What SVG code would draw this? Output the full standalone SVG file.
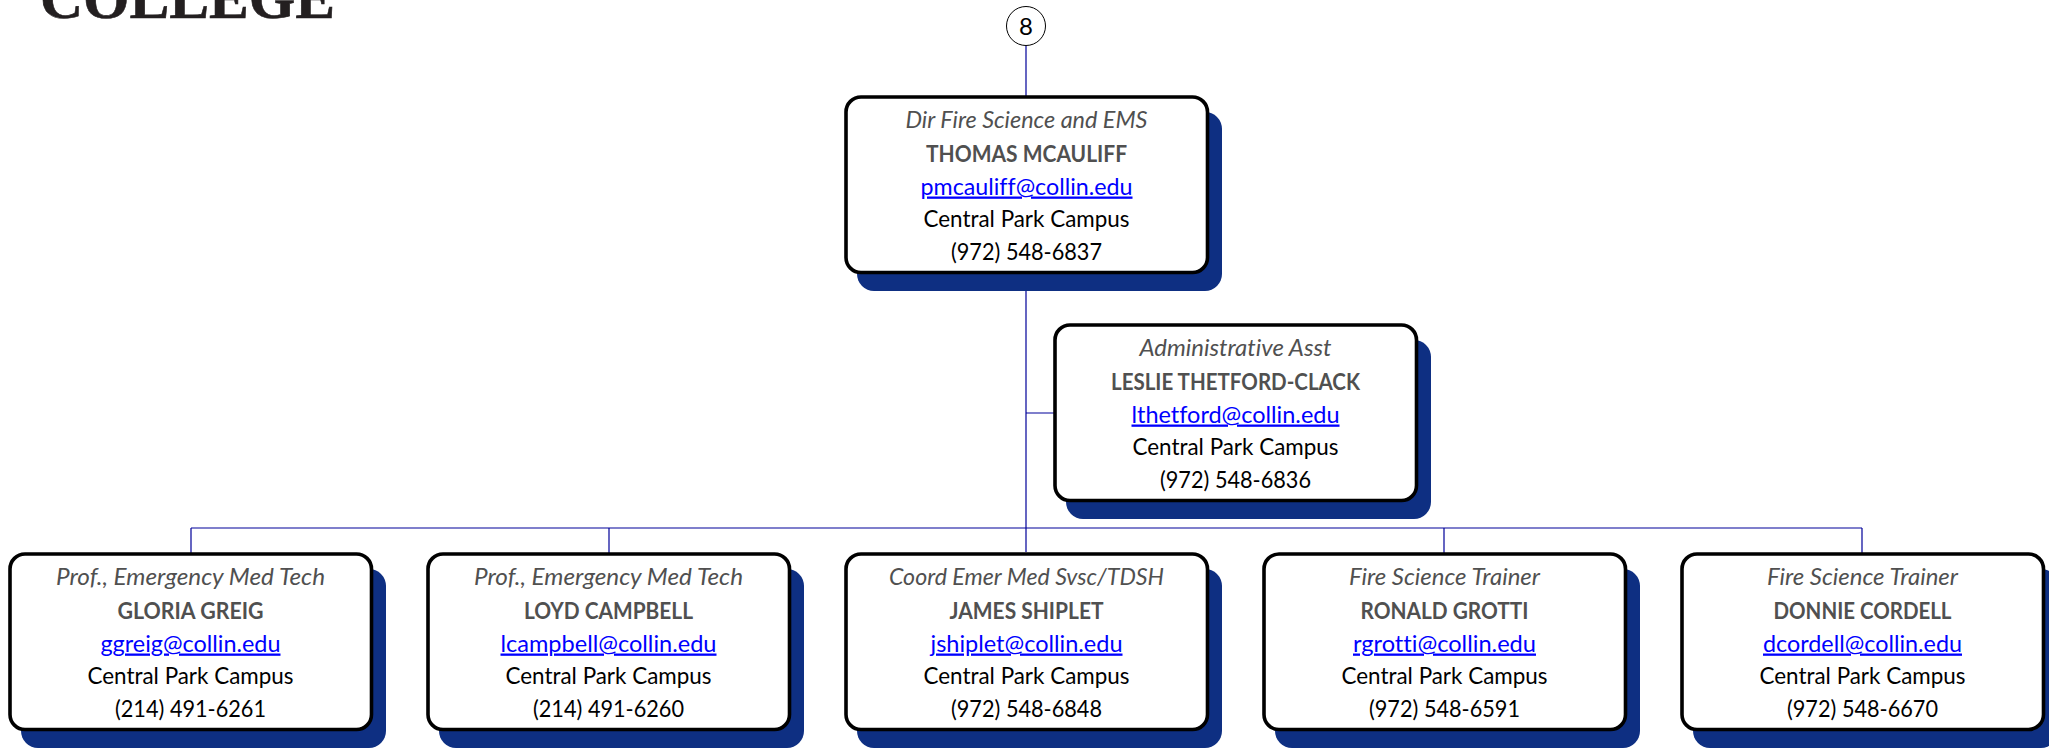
<svg xmlns="http://www.w3.org/2000/svg" width="2049" height="749" viewBox="0 0 2049 749">
<style>
text{font-family:Lato,"Liberation Sans",sans-serif;font-size:22.4px;text-anchor:middle;fill:#000;font-variant-ligatures:none}
.sh{fill:#0e2f82}
.bx{fill:#fff;stroke:#000;stroke-width:3.6}
.t{font-style:italic;fill:#505050;font-size:23px}
.n{font-weight:700;fill:#505050;font-size:22px}
.e{fill:#00f;text-decoration:underline;font-size:23px}
.c{fill:none;stroke:#000099;stroke-width:1.2}
.logo{font-family:"Liberation Serif",serif;font-weight:700;font-size:60px;fill:#231f20;stroke:#231f20;stroke-width:.6;text-anchor:start}
</style>
<defs>
<g id="card"><rect class="sh" x="11" y="15" width="365" height="179" rx="17"/><rect class="bx" width="361.5" height="175.5" rx="15"/></g>
</defs>
<text id="logo" class="logo" x="40" y="18" textLength="295" lengthAdjust="spacingAndGlyphs">COLLEGE</text>
<g id="connectors">
<path class="c" d="M1026 46V97M1026 272V552M1026 413H1055M191 528H1862M191 528V554M609 528V554M1444 528V554M1862 528V554"/>
</g>
<g id="ref8"><circle cx="1026" cy="26" r="19.5" fill="#fff" stroke="#000" stroke-width="1"/><text x="1026" y="35" style="font-size:24px">8</text></g>
<g id="mcauliff" transform="translate(846 97)"><use href="#card"/>
<text class="t" x="180.5" y="31" textLength="242" lengthAdjust="spacingAndGlyphs">Dir Fire Science and EMS</text><text class="n" x="180.5" y="64.5" textLength="201" lengthAdjust="spacingAndGlyphs">THOMAS MCAULIFF</text><text class="e" x="180.5" y="97.5" textLength="212" lengthAdjust="spacingAndGlyphs">pmcauliff@collin.edu</text><text x="180.5" y="129.5" textLength="206" lengthAdjust="spacingAndGlyphs">Central Park Campus</text><text x="180.5" y="162.5" textLength="151" lengthAdjust="spacingAndGlyphs">(972) 548-6837</text></g>
<g id="thetford" transform="translate(1055 325)"><use href="#card"/>
<text class="t" x="180.5" y="31" textLength="192" lengthAdjust="spacingAndGlyphs">Administrative Asst</text><text class="n" x="180.5" y="64.5" textLength="249" lengthAdjust="spacingAndGlyphs">LESLIE THETFORD-CLACK</text><text class="e" x="180.5" y="97.5" textLength="208" lengthAdjust="spacingAndGlyphs">lthetford@collin.edu</text><text x="180.5" y="129.5" textLength="206" lengthAdjust="spacingAndGlyphs">Central Park Campus</text><text x="180.5" y="162.5" textLength="151" lengthAdjust="spacingAndGlyphs">(972) 548-6836</text></g>
<g id="greig" transform="translate(10 554)"><use href="#card"/>
<text class="t" x="180.5" y="31" textLength="269" lengthAdjust="spacingAndGlyphs">Prof., Emergency Med Tech</text><text class="n" x="180.5" y="64.5" textLength="146" lengthAdjust="spacingAndGlyphs">GLORIA GREIG</text><text class="e" x="180.5" y="97.5" textLength="180" lengthAdjust="spacingAndGlyphs">ggreig@collin.edu</text><text x="180.5" y="129.5" textLength="206" lengthAdjust="spacingAndGlyphs">Central Park Campus</text><text x="180.5" y="162.5" textLength="151" lengthAdjust="spacingAndGlyphs">(214) 491-6261</text></g>
<g id="campbell" transform="translate(428 554)"><use href="#card"/>
<text class="t" x="180.5" y="31" textLength="269" lengthAdjust="spacingAndGlyphs">Prof., Emergency Med Tech</text><text class="n" x="180.5" y="64.5" textLength="169" lengthAdjust="spacingAndGlyphs">LOYD CAMPBELL</text><text class="e" x="180.5" y="97.5" textLength="216" lengthAdjust="spacingAndGlyphs">lcampbell@collin.edu</text><text x="180.5" y="129.5" textLength="206" lengthAdjust="spacingAndGlyphs">Central Park Campus</text><text x="180.5" y="162.5" textLength="151" lengthAdjust="spacingAndGlyphs">(214) 491-6260</text></g>
<g id="shiplet" transform="translate(846 554)"><use href="#card"/>
<text class="t" x="180.5" y="31" textLength="275" lengthAdjust="spacingAndGlyphs">Coord Emer Med Svsc/TDSH</text><text class="n" x="180.5" y="64.5" textLength="154" lengthAdjust="spacingAndGlyphs">JAMES SHIPLET</text><text class="e" x="180.5" y="97.5" textLength="192" lengthAdjust="spacingAndGlyphs">jshiplet@collin.edu</text><text x="180.5" y="129.5" textLength="206" lengthAdjust="spacingAndGlyphs">Central Park Campus</text><text x="180.5" y="162.5" textLength="151" lengthAdjust="spacingAndGlyphs">(972) 548-6848</text></g>
<g id="grotti" transform="translate(1264 554)"><use href="#card"/>
<text class="t" x="180.5" y="31" textLength="191" lengthAdjust="spacingAndGlyphs">Fire Science Trainer</text><text class="n" x="180.5" y="64.5" textLength="168" lengthAdjust="spacingAndGlyphs">RONALD GROTTI</text><text class="e" x="180.5" y="97.5" textLength="183" lengthAdjust="spacingAndGlyphs">rgrotti@collin.edu</text><text x="180.5" y="129.5" textLength="206" lengthAdjust="spacingAndGlyphs">Central Park Campus</text><text x="180.5" y="162.5" textLength="151" lengthAdjust="spacingAndGlyphs">(972) 548-6591</text></g>
<g id="cordell" transform="translate(1682 554)"><use href="#card"/>
<text class="t" x="180.5" y="31" textLength="191" lengthAdjust="spacingAndGlyphs">Fire Science Trainer</text><text class="n" x="180.5" y="64.5" textLength="178" lengthAdjust="spacingAndGlyphs">DONNIE CORDELL</text><text class="e" x="180.5" y="97.5" textLength="199" lengthAdjust="spacingAndGlyphs">dcordell@collin.edu</text><text x="180.5" y="129.5" textLength="206" lengthAdjust="spacingAndGlyphs">Central Park Campus</text><text x="180.5" y="162.5" textLength="151" lengthAdjust="spacingAndGlyphs">(972) 548-6670</text></g>
</svg>
